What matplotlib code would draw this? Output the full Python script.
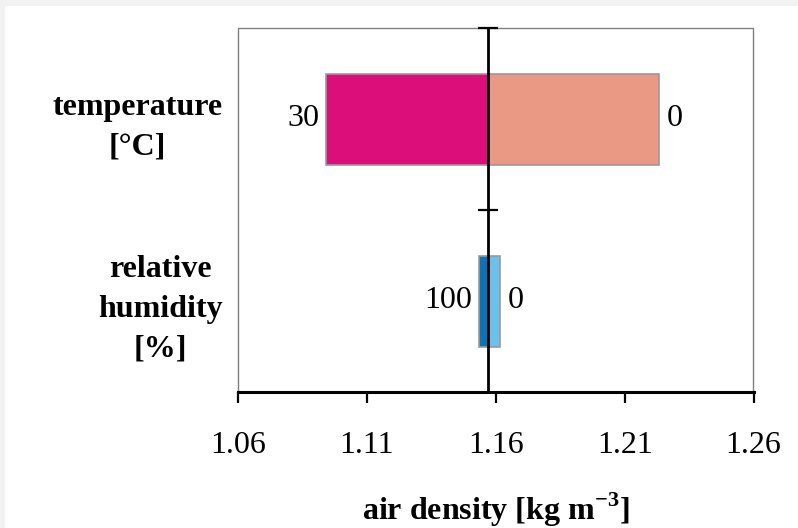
import matplotlib.pyplot as plt
from matplotlib.patches import Rectangle

# data
categories = ["relative\nhumidity\n[%]", "temperature\n[\u00b0C]"]
base = 1.1569
low_vals = [1.1535, 1.0943]     # density at the high end of each variable
high_vals = [1.1616, 1.2233]    # density at the low end
low_labels = ["100", "30"]
high_labels = ["0", "0"]
low_colors = ["#0b73b6", "#dc0f7a"]
high_colors = ["#6cc0ec", "#ea9985"]
xticks = [1.06, 1.11, 1.16, 1.21, 1.26]

plt.rcParams['font.family'] = ['Liberation Serif', 'DejaVu Serif']
plt.rcParams['mathtext.fontset'] = 'custom'
plt.rcParams['mathtext.rm'] = 'Liberation Serif'
plt.rcParams['mathtext.bf'] = 'Liberation Serif:bold'

FS = 23

fig = plt.figure(figsize=(7.98, 5.28), dpi=100)
fig.patch.set_facecolor('#f2f2f2')
fig.patches.append(Rectangle((5 / 798, 0), 1, 1 - 6 / 528, transform=fig.transFigure,
                             facecolor='white', edgecolor='none', zorder=-10))

ax = fig.add_axes([238 / 798, 1 - 392 / 528, 515.5 / 798, 364 / 528])
ax.set_facecolor('white')

ypos = list(range(len(categories)))
for i in ypos:
    ax.barh(i, base - low_vals[i], left=low_vals[i], height=0.5,
            color=low_colors[i], edgecolor='#999999', linewidth=1.2, zorder=2)
    ax.barh(i, high_vals[i] - base, left=base, height=0.5,
            color=high_colors[i], edgecolor='#999999', linewidth=1.2, zorder=2)
    ax.annotate(low_labels[i], (low_vals[i], i), xytext=(-5, 0), textcoords='offset points',
                ha='right', va='center', fontsize=FS)
    ax.annotate(high_labels[i], (high_vals[i], i), xytext=(6, 0), textcoords='offset points',
                ha='left', va='center', fontsize=FS)
    ax.annotate(categories[i], (-0.03, i), xycoords=ax.get_yaxis_transform(),
                xytext=(0, -6), textcoords='offset points',
                ha='right', va='center', multialignment='center',
                fontsize=FS, fontweight='bold', linespacing=1.5)

ax.set_xlim(1.06, 1.26)
ax.set_ylim(-0.5, 1.5)
ax.set_xticks(xticks)
ax.set_xticklabels(["%.2f" % t for t in xticks])
ax.tick_params(axis='x', direction='out', length=8, width=1.6, pad=20, labelsize=FS)

# center line acts as the value axis
for s in ['top', 'right']:
    ax.spines[s].set_visible(False)
ax.spines['left'].set_position(('data', base))
ax.spines['left'].set_linewidth(2)
ax.spines['left'].set_zorder(3)
ax.spines['bottom'].set_linewidth(2.2)
ax.set_yticks([0.5, 1.5])
ax.set_yticklabels([])
ax.tick_params(axis='y', direction='inout', length=14, width=1.6)

ax.add_patch(Rectangle((0, 0), 1, 1, transform=ax.transAxes, fill=False,
                       edgecolor='#808080', linewidth=1, zorder=1, clip_on=False))

ax.set_xlabel("air density [kg m$^{\\mathbf{-3}}$]", fontsize=FS, fontweight='bold', labelpad=22)

fig.savefig("out.png", dpi=100, facecolor=fig.get_facecolor())
